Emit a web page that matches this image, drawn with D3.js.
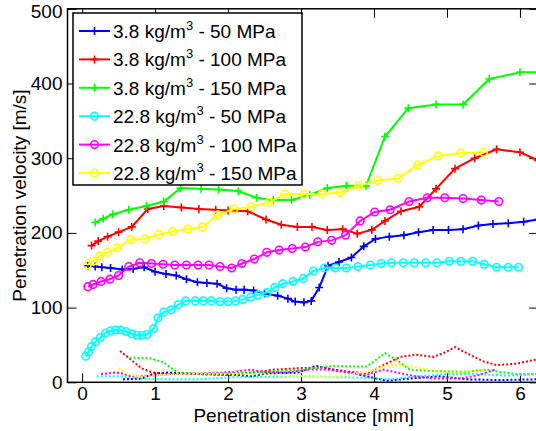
<!DOCTYPE html>
<html>
<head>
<meta charset="utf-8">
<script src="https://cdn.jsdelivr.net/npm/d3@7"></script>
<style>
  body { margin: 0; background: #fff; }
  text { font-family: "Liberation Sans", Arial, sans-serif; fill: #000; }
  .tick text { font-size: 19px; }
  .tick line { stroke: #000; stroke-width: 1; }
</style>
</head>
<body>
<div id="chart"></div>
<script>
var svgWidth = 536;
var svgHeight = 431;

// 3.8 kg/m3 series (plus markers)
var dist_38_50 = [0.08,0.18,0.27,0.39,0.55,0.70,0.85,1.00,1.15,1.29,1.43,1.58,1.71,1.85,1.98,2.11,2.22,2.35,2.50,2.68,2.82,2.92,3.04,3.14,3.25,3.37,3.52,3.69,3.86,4.02,4.21,4.41,4.61,4.81,5.02,5.22,5.43,5.63,5.84,6.05,6.25];
var vel_38_50 = [156,155,154,153,151,152,154,148,145,143,138,134,133,132,126,124,124,123,119,116,112,108,107,109,127,156,161,167,182,192,195,197,201,204,204,205,210,212,213,215,218];

var dist_38_100 = [0.13,0.22,0.35,0.50,0.68,0.90,1.12,1.36,1.60,1.83,2.00,2.27,2.52,2.73,2.95,3.15,3.36,3.57,3.77,3.97,4.15,4.37,4.62,4.85,5.11,5.38,5.68,6.00,6.25];
var vel_38_100 = [183,189,195,201,208,232,236,234,232,231,230,229,218,211,208,208,204,205,199,204,216,229,235,259,286,300,312,308,297];

var dist_38_150 = [0.18,0.29,0.42,0.64,0.88,1.12,1.35,1.63,1.87,2.14,2.39,2.62,2.87,3.12,3.36,3.62,3.89,4.15,4.47,4.85,5.22,5.58,6.00,6.30];
var vel_38_150 = [214,219,225,231,236,242,260,259,258,256,247,244,244,251,260,263,263,329,367,372,372,406,415,415];

// 22.8 kg/m3 series (circle markers)
var dist_228_50 = [0.05,0.09,0.13,0.18,0.25,0.32,0.39,0.46,0.53,0.60,0.68,0.75,0.82,0.89,0.98,1.04,1.12,1.22,1.32,1.42,1.55,1.66,1.77,1.89,2.00,2.10,2.20,2.31,2.41,2.53,2.64,2.75,2.89,3.03,3.17,3.32,3.47,3.62,3.78,3.95,4.10,4.24,4.40,4.55,4.71,4.86,5.03,5.19,5.35,5.51,5.68,5.84,5.98];
var vel_228_50 = [35,41,48,54,60,66,69,70,70,68,65,63,63,64,72,86,94,97,104,109,109,109,109,108,108,109,111,114,117,120,127,132,135,139,149,153,153,153,155,157,159,160,160,160,160,160,162,162,162,158,154,154,154];

var dist_228_100 = [0.08,0.15,0.26,0.38,0.50,0.64,0.79,0.95,1.11,1.27,1.43,1.59,1.74,1.89,2.05,2.19,2.36,2.53,2.70,2.88,3.06,3.23,3.42,3.61,3.81,4.01,4.22,4.48,4.73,4.97,5.22,5.47,5.71];
var vel_228_100 = [128,131,135,138,143,155,160,159,158,157,157,157,157,155,153,159,165,174,177,179,181,188,190,197,216,228,231,242,247,247,246,244,242];

var dist_228_150 = [0.07,0.15,0.24,0.35,0.48,0.67,0.86,1.05,1.24,1.45,1.65,1.86,2.08,2.32,2.56,2.78,3.04,3.29,3.54,3.79,4.05,4.33,4.60,4.88,5.19,5.50];
var vel_228_150 = [157,162,169,174,180,191,192,198,202,205,208,224,232,235,241,252,252,252,254,263,270,273,291,303,307,308];

// spread of each series (dotted, no legend entry)
var sdDist_38_50 = [0.56,0.81,1.00,1.18,1.63,2.09,2.32,2.55,2.96,3.21,3.44,3.67,3.90,4.17,4.49,4.90,5.27,5.73,6.25];
var sd_38_50 = [4,5,12,13,11,10,8,12,13,22,17,13,8,2,5,8,4,3,4];
var sdDist_38_100 = [0.52,0.65,0.81,0.97,1.18,1.63,2.00,2.32,2.64,3.00,3.26,3.44,3.67,3.90,4.01,4.17,4.36,4.58,4.81,4.95,5.11,5.27,5.50,5.68,5.95,6.25];
var sd_38_100 = [42,32,19,13,11,11,10,13,17,19,20,17,14,12,17,25,34,37,34,39,47,39,28,23,25,31];
var sdDist_38_150 = [0.65,0.95,1.13,1.31,1.63,2.00,2.55,2.99,3.26,3.44,3.90,4.15,4.31,4.49,4.81,5.27,5.54,5.73,5.95,6.25];
var sd_38_150 = [33,32,26,13,11,12,14,17,20,22,21,39,30,17,15,14,17,14,11,11];
var sdDist_228_50 = [0.20,0.36,0.54,0.81,1.18,1.63,2.09,2.55,3.00,3.44,3.90,4.26,4.58,5.04,5.45,5.82,6.25];
var sd_228_50 = [8,8,8,5,4,4,7,7,8,7,6,4,8,11,11,9,11];
var sdDist_228_100 = [0.26,0.45,0.54,0.67,0.86,1.18,1.63,2.09,2.32,2.46,2.78,3.10,3.35,3.67,3.90,4.13,4.36,4.58,4.81,5.18,5.45,5.66];
var sd_228_100 = [11,13,12,8,8,11,12,14,17,14,13,17,17,13,10,17,12,8,5,5,10,17];
var sdDist_228_150 = [0.50,0.61,0.81,1.09,1.63,2.09,2.55,2.99,3.44,3.90,4.13,4.31,4.58,4.90,5.27,5.54];
var sd_228_150 = [19,12,7,10,12,11,10,8,7,14,21,24,20,14,14,17];

var densities = ["3.8", "3.8", "3.8", "22.8", "22.8", "22.8"];
var pressures = ["50", "100", "150", "50", "100", "150"];
var colors = ["#0000ff", "#ff0000", "#00ff00", "#00ffff", "#ff00ff", "#ffff00"];
var markers = ["plus", "plus", "plus", "circle", "circle", "circle"];
var xTicks = [0, 1, 2, 3, 4, 5, 6];
var yTicks = [0, 100, 200, 300, 400, 500];

function zipPts(xs, ys) {
    return xs.map(function(x, i) { return {x: x, y: ys[i]}; });
}

var series = [
    {pts: zipPts(dist_38_50, vel_38_50), sd: zipPts(sdDist_38_50, sd_38_50)},
    {pts: zipPts(dist_38_100, vel_38_100), sd: zipPts(sdDist_38_100, sd_38_100)},
    {pts: zipPts(dist_38_150, vel_38_150), sd: zipPts(sdDist_38_150, sd_38_150)},
    {pts: zipPts(dist_228_50, vel_228_50), sd: zipPts(sdDist_228_50, sd_228_50)},
    {pts: zipPts(dist_228_100, vel_228_100), sd: zipPts(sdDist_228_100, sd_228_100)},
    {pts: zipPts(dist_228_150, vel_228_150), sd: zipPts(sdDist_228_150, sd_228_150)}
];

var plotLeft = 67.5, plotRight = 538.2, plotTop = 8.8, plotBottom = 382.3;

var xScale = d3.scaleLinear().domain([-0.2, 6.25]).range([plotLeft, plotRight]);
var yScale = d3.scaleLinear().domain([0, 500]).range([plotBottom, plotTop]);

var svg = d3.select("#chart")
    .append("svg")
    .attr("width", svgWidth)
    .attr("height", svgHeight);

svg.append("clipPath")
    .attr("id", "plotClip")
    .append("rect")
    .attr("x", plotLeft)
    .attr("y", plotTop)
    .attr("width", plotRight - plotLeft)
    .attr("height", plotBottom - plotTop);

// axes with inward ticks on all four sides
var bottomAxis = svg.append("g")
    .attr("transform", `translate(0, ${plotBottom})`)
    .call(d3.axisBottom(xScale).tickValues(xTicks).tickSize(-9).tickPadding(4).tickFormat(d3.format("d")));
var topAxis = svg.append("g")
    .attr("transform", `translate(0, ${plotTop})`)
    .call(d3.axisTop(xScale).tickValues(xTicks).tickSize(-9).tickFormat(""));
var leftAxis = svg.append("g")
    .attr("transform", `translate(${plotLeft}, 0)`)
    .call(d3.axisLeft(yScale).tickValues(yTicks).tickSize(-9).tickPadding(5).tickFormat(d3.format("d")));
var rightAxis = svg.append("g")
    .attr("transform", `translate(${plotRight}, 0)`)
    .call(d3.axisRight(yScale).tickValues(yTicks).tickSize(-9).tickFormat(""));
[bottomAxis, topAxis, leftAxis, rightAxis].forEach(function(a) {
    a.select(".domain").remove();
});
// keep the top label inside the picture
leftAxis.selectAll(".tick text").filter(d => d == 500).attr("dy", "0.45em");

svg.append("rect")
    .attr("x", plotLeft)
    .attr("y", plotTop)
    .attr("width", plotRight - plotLeft)
    .attr("height", plotBottom - plotTop)
    .attr("fill", "none")
    .attr("stroke", "#000")
    .attr("stroke-width", 1.5);

var line = d3.line()
    .x(d => xScale(d.x))
    .y(d => yScale(d.y));

var plotArea = svg.append("g").attr("clip-path", "url(#plotClip)");

function drawMarker(g, kind, cx, cy, color) {
    if (kind == "plus") {
        g.append("path")
            .attr("d", `M${cx - 4},${cy}H${cx + 4}M${cx},${cy - 4}V${cy + 4}`)
            .attr("stroke", color)
            .attr("stroke-width", 1.6)
            .attr("fill", "none");
    } else {
        g.append("circle")
            .attr("cx", cx)
            .attr("cy", cy)
            .attr("r", 3.8)
            .attr("stroke", color)
            .attr("stroke-width", 1.6)
            .attr("fill", "none");
    }
}

series.forEach(function(s, i) {
    plotArea.append("path")
        .datum(s.pts)
        .attr("d", line)
        .attr("fill", "none")
        .attr("stroke", colors[i])
        .attr("stroke-width", 2);
    var mg = plotArea.append("g");
    s.pts.forEach(function(p) {
        drawMarker(mg, markers[i], xScale(p.x), yScale(p.y), colors[i]);
    });
});

series.forEach(function(s, i) {
    plotArea.append("path")
        .datum(s.sd)
        .attr("d", line)
        .attr("fill", "none")
        .attr("stroke", colors[i])
        .attr("stroke-width", 2)
        .attr("stroke-dasharray", "2,2");
});

// legend
var legend = svg.append("g");
legend.append("rect")
    .attr("x", 73)
    .attr("y", 13)
    .attr("width", 229)
    .attr("height", 172)
    .attr("fill", "#fff")
    .attr("stroke", "#000")
    .attr("stroke-width", 1.5);

densities.forEach(function(dens, i) {
    var ly = 31 + i * 28.4;
    legend.append("line")
        .attr("x1", 79).attr("x2", 110)
        .attr("y1", ly).attr("y2", ly)
        .attr("stroke", colors[i])
        .attr("stroke-width", 2);
    drawMarker(legend, markers[i], 94.5, ly, colors[i]);
    var t = legend.append("text")
        .attr("x", 113)
        .attr("y", ly + 7)
        .style("font-size", "19px");
    t.append("tspan").text(dens + " kg/m");
    t.append("tspan").attr("dy", -8).style("font-size", "13px").text("3");
    t.append("tspan").attr("dy", 8).text(" - " + pressures[i] + " MPa");
});

svg.append("text")
    .attr("x", (plotLeft + 538) / 2 + 1)
    .attr("y", 422)
    .attr("text-anchor", "middle")
    .style("font-size", "19px")
    .text("Penetration distance [mm]");

svg.append("text")
    .attr("transform", `translate(26, ${(plotTop + plotBottom) / 2}) rotate(-90)`)
    .attr("text-anchor", "middle")
    .style("font-size", "19px")
    .text("Penetration velocity [m/s]");
</script>
</body>
</html>
